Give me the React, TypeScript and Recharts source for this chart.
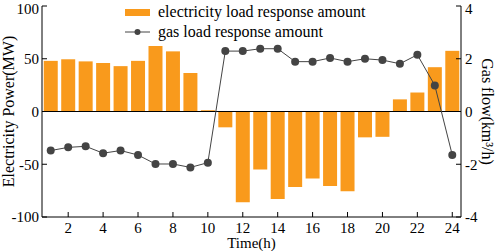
import React from 'react';
import { ComposedChart, Bar, Line, XAxis, YAxis, ReferenceLine } from 'recharts';

const HOURS = [1, 2, 3, 4, 5, 6, 7, 8, 9, 10, 11, 12, 13, 14, 15, 16, 17, 18, 19, 20, 21, 22, 23, 24];
const ELECTRICITY = [48, 49.5, 47.5, 46, 43, 48, 62, 57, 36.5, 1.2, -15, -86, -55, -83, -71.5, -63.5, -70.5, -75.5, -24.5, -24, 11.5, 18, 42, 57.5];
const GAS = [-1.48, -1.36, -1.32, -1.58, -1.48, -1.65, -1.99, -1.99, -2.12, -1.94, 2.29, 2.29, 2.38, 2.38, 1.89, 1.89, 2.03, 1.89, 2.0, 1.95, 1.81, 2.15, 0.99, -1.65];
const LEFT_TICKS = [-100, -50, 0, 50, 100];
const RIGHT_TICKS = [-4, -2, 0, 2, 4];

const data = HOURS.map((h, i) => ({ hour: h, elec: ELECTRICITY[i], gas: GAS[i] }));

const FONT = '"Liberation Serif", "Times New Roman", serif';
const BAR_COLOR = '#F99A1C';
const LINE_COLOR = '#444444';

const XTick = (props: any) => {
  const { x, y, payload } = props;
  const v = Number(payload.value);
  if (v % 2 !== 0) return <g />;
  return (
    <g>
      <line x1={x} x2={x} y1={y} y2={y - 5} stroke="#000" />
      <text x={x} y={y + 16} textAnchor="middle" fill="#000" fontSize={15} fontFamily={FONT}>{v}</text>
    </g>
  );
};

const LegendBox = () => (
  <div style={{ position: 'absolute', left: 125, top: 2, fontFamily: FONT, fontSize: 16, color: '#000', lineHeight: '20px' }}>
    <div style={{ display: 'flex', alignItems: 'center' }}>
      <span style={{ display: 'inline-block', width: 25, height: 7, background: BAR_COLOR, marginRight: 8 }} />
      <span>electricity load response amount</span>
    </div>
    <div style={{ display: 'flex', alignItems: 'center' }}>
      <svg width={25} height={10} style={{ marginRight: 8 }}>
        <line x1={0} x2={25} y1={5} y2={5} stroke={LINE_COLOR} />
        <circle cx={12.5} cy={5} r={3} fill={LINE_COLOR} />
      </svg>
      <span>gas load response amount</span>
    </div>
  </div>
);

export default function App() {
  return (
    <div style={{ position: 'absolute', left: 0, top: 0, width: 498, height: 251, background: '#fff' }}>
      <ComposedChart width={498} height={251} data={data} margin={{ top: 6, right: 0, bottom: 0, left: 0 }} barCategoryGap="10%">
        <XAxis
          dataKey="hour"
          height={34}
          interval={0}
          tickSize={0}
          tickMargin={0}
          tickLine={false}
          tick={<XTick />}
          axisLine={{ stroke: '#000' }}
          label={{ value: 'Time(h)', position: 'insideBottom', offset: 3, fill: '#000', fontSize: 15, fontFamily: FONT }}
        />
        <YAxis
          yAxisId="left"
          width={42}
          domain={[-100, 100]}
          ticks={LEFT_TICKS}
          tickSize={-5}
          tickMargin={8}
          tick={{ fill: '#000', fontSize: 15, fontFamily: FONT }}
          tickLine={{ stroke: '#000' }}
          axisLine={{ stroke: '#000' }}
          label={{ value: 'Electricity Power(MW)', angle: -90, position: 'insideLeft', offset: 0, dx: 8, fill: '#000', fontSize: 16, fontFamily: FONT, style: { textAnchor: 'middle' } }}
        />
        <YAxis
          yAxisId="right"
          orientation="right"
          width={37}
          domain={[-4, 4]}
          ticks={RIGHT_TICKS}
          tickSize={-5}
          tickMargin={9}
          tick={{ fill: '#000', fontSize: 15, fontFamily: FONT }}
          tickLine={{ stroke: '#000' }}
          axisLine={{ stroke: '#000' }}
          label={{ value: 'Gas flow(km³/h)', angle: 90, position: 'insideRight', offset: 0, dx: -10, fill: '#000', fontSize: 16, fontFamily: FONT, style: { textAnchor: 'middle' } }}
        />
        <Bar yAxisId="left" dataKey="elec" name="electricity load response amount" fill={BAR_COLOR} isAnimationActive={false} />
        <ReferenceLine yAxisId="left" y={0} stroke="#000" />
        <Line yAxisId="right" dataKey="gas" name="gas load response amount" type="linear" stroke={LINE_COLOR} strokeWidth={1} dot={{ r: 4, fill: LINE_COLOR, stroke: 'none' }} isAnimationActive={false} />
      </ComposedChart>
      <LegendBox />
    </div>
  );
}
